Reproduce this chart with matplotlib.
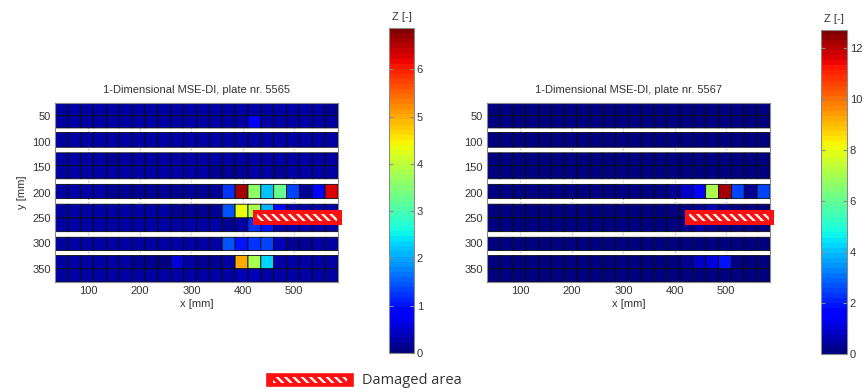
import numpy as np
import matplotlib
matplotlib.use("Agg")
import matplotlib.pyplot as plt
from matplotlib.patches import Rectangle
from matplotlib.colors import Normalize

# ---------------- data ----------------
x_edges = [35 + 25 * i for i in range(23)]          # 22 columns, 25 mm wide
band_edges = [[24, 49, 73], [82, 111], [122, 147, 173], [184, 212],
              [223, 250, 277], [288, 314], [324, 350, 376]]

z_5565 = [
    [.30,.30,.30,.30,.30,.30,.30,.30,.30,.30,.30,.30,.30,.30,.30,.30,.30,.30,.30,.30,.30,.20],
    [.30,.30,.30,.30,.30,.30,.30,.30,.30,.30,.30,.30,.30,.30,.30,.90,.30,.30,.30,.30,.30,.30],
    [.30,.30,.30,.30,.30,.30,.30,.30,.30,.30,.30,.30,.30,.30,.30,.30,.30,.30,.30,.30,.30,.30],
    [.30,.30,.30,.30,.20,.30,.30,.30,.30,.22,.30,.30,.30,.25,.30,.30,.30,.30,.30,.30,.30,.30],
    [.30,.30,.30,.30,.30,.30,.30,.30,.30,.30,.30,.30,.15,.15,.15,.30,.30,.15,.30,.30,.30,.30],
    [.30,.30,.30,.30,.20,.20,.20,.20,.20,.20,.20,.20,.12,1.20,6.60,3.60,2.15,3.26,1.37,.15,.90,6.27],
    [.30,.30,.30,.30,.30,.30,.30,.30,.30,.15,.15,.15,.20,1.40,4.30,3.80,2.10,.90,.30,.30,.30,.30],
    [.30,.30,.30,.30,.30,.30,.30,.30,.30,.30,.30,.30,.30,.15,.25,1.20,1.00,.30,.30,.30,.30,.30],
    [.30,.30,.30,.30,.30,.30,.30,.30,.30,.30,.30,.30,.30,1.40,1.05,1.20,1.35,.40,.20,.20,.30,.30],
    [.30,.30,.30,.30,.30,.30,.20,.15,.10,.55,.30,.20,.15,.30,4.98,3.80,2.30,.30,.30,.30,.30,.30],
    [.30,.30,.30,.30,.30,.30,.30,.30,.30,.30,.30,.30,.30,.30,.35,.35,.30,.30,.30,.30,.30,.30],
]

z_5567 = [
    [.15,.15,.15,.15,.15,.15,.15,.15,.15,.15,.15,.15,.15,.15,.15,.15,.15,.15,.15,.15,.15,.15],
    [.15,.15,.15,.15,.15,.15,.15,.15,.15,.15,.15,.15,.15,.15,.15,.15,.15,.15,.15,.15,.15,.15],
    [.15,.15,.15,.15,.15,.15,.15,.15,.15,.15,.15,.15,.15,.15,.15,.15,.15,.15,.15,.15,.15,.15],
    [.15,.15,.15,.15,.15,.15,.15,.15,.15,.15,.15,.15,.15,.15,.15,.15,.15,.15,.15,.15,.15,.15],
    [.15,.15,.15,.15,.15,.15,.15,.15,.15,.15,.15,.15,.15,.15,.15,.15,.15,.15,.15,.15,.15,.15],
    [.15,.15,.15,.15,.15,.15,.15,.15,.15,.15,.15,.15,.15,.15,.20,.95,1.70,7.10,12.2,2.40,.30,2.50],
    [.15,.15,.15,.15,.15,.15,.15,.15,.15,.15,.15,.15,.15,.15,.15,.15,.20,.60,.20,.15,.15,.15],
    [.15,.15,.15,.15,.15,.15,.15,.15,.15,.15,.15,.15,.15,.15,.15,.20,.50,.20,.15,.15,.15,.15],
    [.15,.15,.15,.15,.15,.15,.15,.15,.15,.15,.15,.15,.15,.15,.15,.15,.15,.15,.15,.15,.15,.15],
    [.15,.15,.15,.15,.15,.15,.15,.15,.15,.15,.15,.15,.15,.15,.15,.35,.80,1.10,1.80,.15,.15,.15],
    [.15,.15,.15,.15,.15,.15,.15,.15,.15,.15,.15,.15,.15,.15,.15,.15,.15,.15,.15,.15,.15,.15],
]

vmax_5565 = 6.87
vmax_5567 = 12.7
cb_ticks_5565 = [0, 1, 2, 3, 4, 5, 6]
cb_ticks_5567 = [0, 2, 4, 6, 8, 10, 12]
x_ticks = [100, 200, 300, 400, 500]
y_ticks = [50, 100, 150, 200, 250, 300, 350]
damage_x = (421, 590)
damage_y = (237, 261)
titles = ["1-Dimensional MSE-DI, plate nr. 5565", "1-Dimensional MSE-DI, plate nr. 5567"]

# ---------------- plotting ----------------
plt.rcParams['font.family'] = ['Liberation Sans', 'DejaVu Sans']
plt.rcParams['hatch.linewidth'] = 1.6
plt.rcParams['hatch.color'] = 'white'

fig = plt.figure(figsize=(8.64, 3.90), dpi=100)
cmap = plt.get_cmap('jet', 64)
grey = '#8a8a8a'
tcol = '#333333'


def draw(ax, cax, z, vmax, ticks, title, ylabel):
    z = np.asarray(z, dtype=float)
    norm = Normalize(0, vmax)
    r = 0
    mesh = None
    for edges in band_edges:
        n = len(edges) - 1
        mesh = ax.pcolormesh(x_edges, edges, z[r:r + n], cmap=cmap, norm=norm,
                             edgecolors='#0a0a0a', linewidth=0.6, antialiased=True,
                             snap=False, zorder=2)
        r += n
    ax.set_xlim(x_edges[0], x_edges[-1])
    ax.set_ylim(band_edges[-1][-1], band_edges[0][0])
    ax.set_xticks(x_ticks)
    ax.set_yticks(y_ticks)
    ax.grid(True, axis='x', color='#b0b0b0', linestyle=':', linewidth=0.8, zorder=0)
    ax.set_axisbelow(True)
    ax.tick_params(direction='in', length=3, color=grey, labelsize=8, labelcolor=tcol, pad=3)
    for s in ax.spines.values():
        s.set_color(grey)
        s.set_linewidth(0.8)
    ax.set_title(title, fontsize=8, color=tcol, pad=7)
    ax.set_xlabel('x [mm]', fontsize=8, color=tcol, labelpad=2)
    if ylabel:
        ax.set_ylabel('y [mm]', fontsize=8, color=tcol, labelpad=4)
    # damaged area
    w = damage_x[1] - damage_x[0]
    h = damage_y[1] - damage_y[0]
    ax.add_patch(Rectangle((damage_x[0], damage_y[0]), w, h, facecolor='#ff1010',
                           edgecolor='#ff1010', linewidth=1.5, zorder=5, clip_on=False))
    ax.add_patch(Rectangle((damage_x[0] + 7, damage_y[0] + 5), w - 14, h - 10,
                           facecolor='none', edgecolor='white', hatch='\\\\\\\\',
                           linewidth=0, zorder=6, clip_on=False))
    cb = fig.colorbar(mesh, cax=cax, ticks=ticks)
    cb.outline.set_edgecolor(grey)
    cb.outline.set_linewidth(0.8)
    cax.tick_params(direction='in', length=3, color=grey, labelsize=8, labelcolor=tcol,
                    left=True, right=True, pad=2)
    cax.set_title('Z [-]', fontsize=8, color=tcol, pad=6)


ax1 = fig.add_axes([0.0637, 0.2769, 0.3275, 0.459])
ax2 = fig.add_axes([0.5637, 0.2769, 0.3275, 0.459])
cax1 = fig.add_axes([0.4502, 0.0949, 0.0289, 0.833])
cax2 = fig.add_axes([0.9502, 0.0923, 0.0301, 0.831])

draw(ax1, cax1, z_5565, vmax_5565, cb_ticks_5565, titles[0], True)
draw(ax2, cax2, z_5567, vmax_5567, cb_ticks_5567, titles[1], False)

# legend
lx, ly, lw, lh = 267 / 864, 1 - 386 / 390, 86 / 864, 12 / 390
fig.patches.append(Rectangle((lx, ly), lw, lh, transform=fig.transFigure, figure=fig,
                             facecolor='#ff1010', edgecolor='#ff1010', linewidth=1.2))
fig.patches.append(Rectangle((lx + 6 / 864, ly + 3 / 390), lw - 12 / 864, lh - 6 / 390,
                             transform=fig.transFigure, figure=fig, facecolor='none',
                             edgecolor='white', hatch='\\\\\\\\', linewidth=0))
fig.text(362 / 864, ly + lh / 2, 'Damaged area', fontsize=10.5, color='#333333',
         va='center', ha='left', family=['Open Sans', 'DejaVu Sans'])

fig.savefig('out.png', dpi=100)
